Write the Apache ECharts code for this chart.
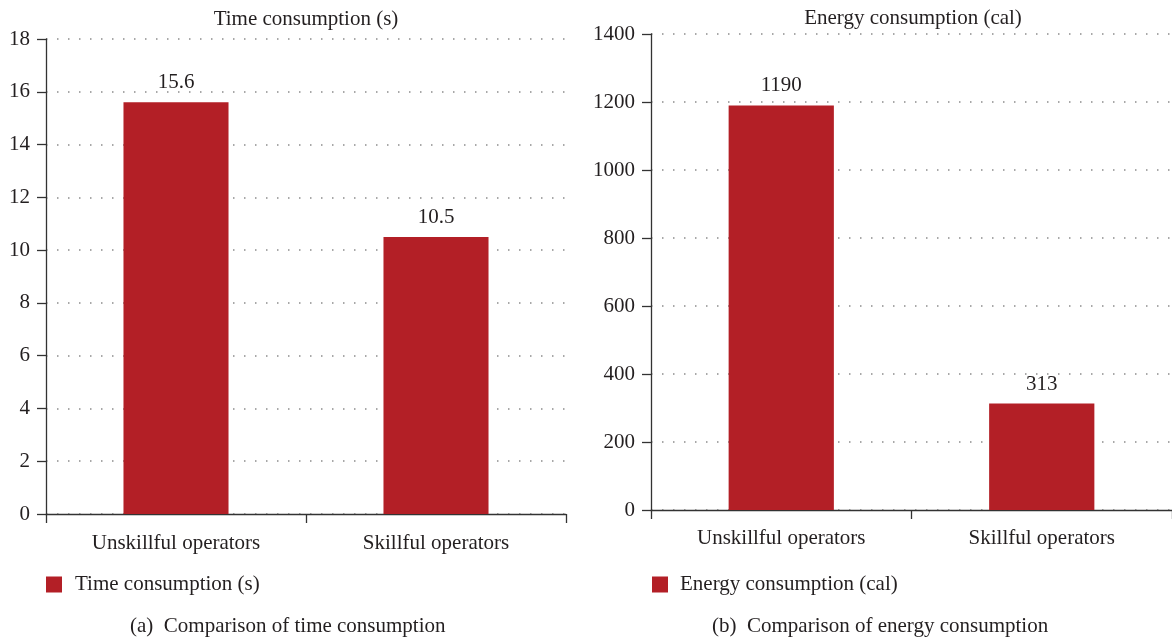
<!DOCTYPE html>
<html>
<head>
<meta charset="utf-8">
<script src="https://cdn.jsdelivr.net/npm/echarts@6/dist/echarts.min.js"></script>
<style>
  html, body { margin: 0; padding: 0; background: #ffffff; }
  #chart { width: 1172px; height: 640px; }
</style>
</head>
<body>
<div id="chart"></div>
<script>
// Operator groups shared by both panels
const categories = ['Unskillful operators', 'Skillful operators'];

// Panel (a): time consumption in seconds
const timeName = 'Time consumption (s)';
const timeValues = [15.6, 10.5];
const timeTicks = { min: 0, max: 18, interval: 2 };

// Panel (b): energy consumption in calories
const energyName = 'Energy consumption (cal)';
const energyValues = [1190, 313];
const energyTicks = { min: 0, max: 1400, interval: 200 };

// Panel captions
const captions = ['(a)  Comparison of time consumption', '(b)  Comparison of energy consumption'];

const FONT = '"Liberation Serif", "DejaVu Serif", serif';
const INK = '#231f20';
const BAR = '#b31f26';
const FS = 21;

const chart = echarts.init(document.getElementById('chart'), null, { renderer: 'canvas' });

function xAxisFor(gridIndex, labelMargin) {
  return {
    type: 'category',
    gridIndex: gridIndex,
    data: categories,
    boundaryGap: true,
    axisLine: { show: true, lineStyle: { color: '#333', width: 1.3 } },
    axisTick: { show: true, inside: false, length: 9, alignWithLabel: false, lineStyle: { color: '#333', width: 1.3 } },
    axisLabel: { color: INK, fontFamily: FONT, fontSize: FS, margin: labelMargin },
    splitLine: { show: false }
  };
}

function yAxisFor(gridIndex, ticks) {
  return {
    type: 'value',
    gridIndex: gridIndex,
    min: ticks.min,
    max: ticks.max,
    interval: ticks.interval,
    axisLine: { show: true, lineStyle: { color: '#333', width: 1.3 } },
    axisTick: { show: true, inside: false, length: 9, lineStyle: { color: '#333', width: 1.3 } },
    axisLabel: { color: INK, fontFamily: FONT, fontSize: FS, margin: 16, formatter: v => String(v) },
    splitLine: { show: true, lineStyle: { color: '#8c8c8c', width: 1.5, type: [1.5, 9.5] } }
  };
}

function barSeries(name, values, idx) {
  return {
    name: name,
    type: 'bar',
    xAxisIndex: idx,
    yAxisIndex: idx,
    data: values,
    barWidth: '40.4%',
    itemStyle: { color: BAR },
    label: {
      show: true,
      position: 'top',
      distance: 9,
      color: INK,
      fontFamily: FONT,
      fontSize: FS
    }
  };
}

const titleText = { color: INK, fontFamily: FONT, fontSize: FS, fontWeight: 'normal' };

const option = {
  backgroundColor: '#ffffff',
  animation: false,
  title: [
    { text: timeName, left: 306, top: 9, padding: 0, textAlign: 'center', textStyle: titleText },
    { text: energyName, left: 913, top: 8, padding: 0, textAlign: 'center', textStyle: titleText },
    { text: captions[0], left: 130, top: 616, padding: 0, textStyle: titleText },
    { text: captions[1], left: 712, top: 616, padding: 0, textStyle: titleText }
  ],
  legend: [
    { data: [timeName], left: 46, top: 574, padding: 0, icon: 'rect', itemWidth: 16, itemHeight: 16, itemGap: 10,
      textStyle: { color: INK, fontFamily: FONT, fontSize: FS, padding: [0, 0, 0, 8] } },
    { data: [energyName], left: 652, top: 574, padding: 0, icon: 'rect', itemWidth: 16, itemHeight: 16, itemGap: 10,
      textStyle: { color: INK, fontFamily: FONT, fontSize: FS, padding: [0, 0, 0, 7] } }
  ],
  grid: [
    { left: 46, top: 39, width: 520, height: 475, containLabel: false },
    { left: 651, top: 34, width: 524, height: 476, containLabel: false }
  ],
  xAxis: [xAxisFor(0, 19), xAxisFor(1, 18)],
  yAxis: [yAxisFor(0, timeTicks), yAxisFor(1, energyTicks)],
  series: [barSeries(timeName, timeValues, 0), barSeries(energyName, energyValues, 1)]
};

chart.setOption(option);
</script>
</body>
</html>
